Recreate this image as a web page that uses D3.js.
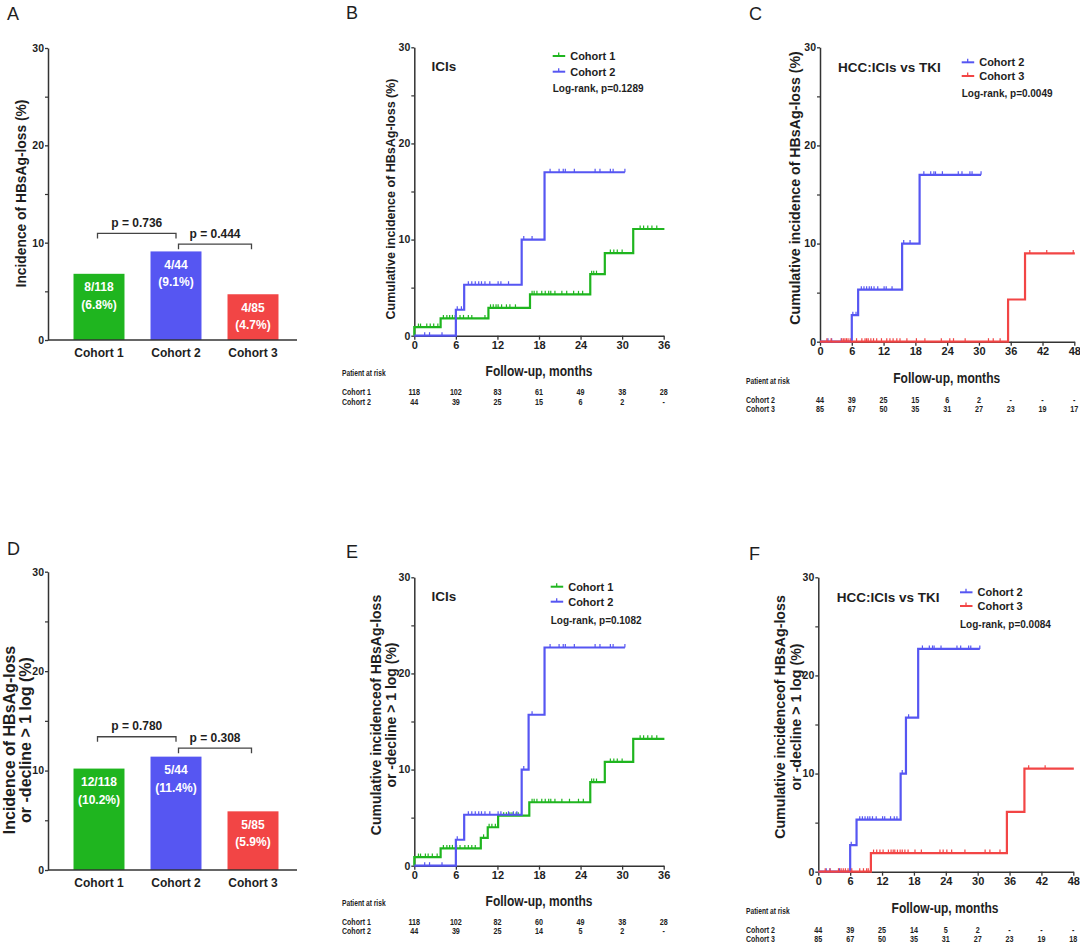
<!DOCTYPE html>
<html><head><meta charset="utf-8">
<script src="https://cdn.jsdelivr.net/npm/d3@7"></script>
<style>
body{margin:0;background:#fff}
svg{display:block}
text{font-family:"Liberation Sans",Arial,sans-serif;font-weight:bold;fill:#1e1e1e}
.letter{font-weight:normal}
</style>
</head><body><svg id="c" width="1080" height="945"></svg>
<script>
// ---------- data ----------
const categories = ["Cohort 1", "Cohort 2", "Cohort 3"];
const colors = ["#1fb51f", "#5656f2", "#f24545"];

const lossValues = [6.8, 9.1, 4.7];
const lossCounts = ["8/118", "4/44", "4/85"];
const lossPct = ["(6.8%)", "(9.1%)", "(4.7%)"];
const lossP = ["p = 0.736", "p = 0.444"];

const declineValues = [10.2, 11.4, 5.9];
const declineCounts = ["12/118", "5/44", "5/85"];
const declinePct = ["(10.2%)", "(11.4%)", "(5.9%)"];
const declineP = ["p = 0.780", "p = 0.308"];

const yTicks = [0, 10, 20, 30];
const yMinor = [5, 15, 25];
const months36 = [0, 6, 12, 18, 24, 30, 36];
const months48 = [0, 6, 12, 18, 24, 30, 36, 42, 48];

// Kaplan-Meier step points [month, %]
const lossC1 = [[0,0],[0,0.9],[3.8,1.8],[10.7,2.9],[16.7,4.3],[25.4,6.4],[27.5,8.6],[31.6,11.1],[36.1,11.1]];
const lossC2 = [[0,0],[6,2.7],[7.2,5.3],[15.5,10.0],[18.8,17.0],[30.4,17.0]];
const lossC3 = [[0,0],[35.5,4.3],[38.7,9.0],[48.1,9.0]];
const declC1 = [[0,0],[0,0.9],[3.8,1.8],[9.6,2.9],[10.6,4.0],[12.1,5.2],[16.6,6.6],[25.4,8.7],[27.5,10.8],[31.6,13.2],[36.1,13.2]];
const declC2 = [[0,0],[6,2.7],[7.2,5.3],[15.5,10.0],[16.5,15.7],[18.8,22.7],[30.4,22.7]];
const declC3 = [[0,0],[9.9,1.9],[35.5,6.1],[38.8,10.5],[48.1,10.5]];

// censored times (months)
const lossC1Cens = [0.6,0.9,1.8,2.3,2.8,3.4,4.2,4.7,5.1,5.5,5.9,6.6,7.1,7.8,8.3,10.2,11.0,11.4,11.8,12.1,12.6,13.3,13.8,14.6,17.0,17.3,17.7,18.4,18.9,19.4,19.7,20.3,21.3,22.0,23.0,23.7,24.3,25.6,25.9,26.3,28.3,28.8,29.3,30.0,32.6,33.1,33.7,34.3,35.0];
const lossC2Cens = [1.5,2.2,4.0,6.2,6.8,7.8,8.3,8.8,9.3,9.7,10.2,10.9,12.1,12.5,13.6,15.8,17.0,19.6,20.9,21.5,21.8,23.1,26.1,26.8,28.3,28.7,30.4];
const lossC3Cens = [1.3,2.1,4.1,4.4,4.7,5.0,5.3,5.7,6.9,7.9,8.5,8.8,9.1,9.6,10.1,10.7,11.6,12.6,13.2,13.8,14.5,15.1,16.4,18.2,19.8,22.9,24.5,25.2,27.4,31.8,32.7,34.0,39.6,42.8,47.8];
const declC1Cens = [0.6,0.9,1.6,2.0,2.6,3.3,4.2,4.7,5.1,5.5,6.1,6.6,7.3,7.8,8.3,8.8,10.0,10.8,11.2,11.7,12.9,13.3,13.8,14.1,14.7,15.0,17.0,17.3,17.7,18.4,18.9,19.4,19.7,20.3,21.3,22.4,23.7,24.4,25.6,25.9,26.3,28.3,28.8,29.3,30.0,32.6,33.1,33.7,34.3,35.0];
const declC2Cens = [1.5,2.2,4.0,6.2,7.8,8.3,8.8,9.3,9.7,10.2,10.9,12.1,12.5,13.6,14.3,14.8,15.8,17.0,19.6,20.9,21.5,21.8,23.1,26.1,26.8,28.3,28.7,30.4];
const declC3Cens = [1.3,2.2,3.8,4.3,4.7,5.1,5.6,6.3,7.8,8.5,9.1,9.4,10.4,11.0,11.6,12.2,13.2,13.7,14.1,14.4,14.9,15.4,15.8,16.3,16.9,18.2,19.4,22.9,23.5,24.2,25.1,27.6,31.4,32.3,34.2,39.6,42.7];

// numbers at risk
const riskB1 = ["118","102","83","61","49","38","28"];
const riskB2 = ["44","39","25","15","6","2","-"];
const riskC2 = ["44","39","25","15","6","2","-","-","-"];
const riskC3 = ["85","67","50","35","31","27","23","19","17"];
const riskE1 = ["118","102","82","60","49","38","28"];
const riskE2 = ["44","39","25","14","5","2","-"];
const riskF2 = ["44","39","25","14","5","2","-","-","-"];
const riskF3 = ["85","67","50","35","31","27","23","19","18"];

// ---------- drawing ----------
const svg = d3.select("#c");
const AX = "#333";

function styleAxis(g, fs) {
  g.select(".domain").attr("stroke", AX).attr("stroke-width", 1.5);
  g.selectAll(".tick line").attr("stroke", AX).attr("stroke-width", 1.3);
  g.selectAll(".tick text").attr("font-size", fs).attr("fill", "#1e1e1e")
    .style("font-family", '"Liberation Sans",Arial,sans-serif').style("font-weight", "bold");
}

function yAxis(g, y, x0) {
  const a = g.append("g").attr("transform", `translate(${x0},0)`)
    .call(d3.axisLeft(y).tickValues(yTicks).tickSize(3).tickSizeOuter(0).tickPadding(1));
  styleAxis(a, 10.5);
  const m = g.append("g").attr("transform", `translate(${x0},0)`)
    .call(d3.axisLeft(y).tickValues(yMinor).tickSize(3).tickFormat(""));
  m.select(".domain").remove();
  m.selectAll(".tick line").attr("stroke", AX).attr("stroke-width", 1.2);
}

function letter(t, x, y) {
  svg.append("text").attr("class", "letter").attr("x", x).attr("y", y)
    .attr("font-size", 18).text(t);
}

function rotTitle(lines, cx, cy, fs, gap) {
  lines.forEach((l, i) => {
    const x = cx + (i - (lines.length - 1) / 2) * gap;
    svg.append("text").attr("transform", `translate(${x},${cy}) rotate(-90)`)
      .attr("text-anchor", "middle").attr("dominant-baseline", "central")
      .attr("font-size", fs).text(l);
  });
}

// condensed text helper (narrow look of the original)
function narrowText(g, x, y, txt, fs, sx, anchor) {
  return g.append("text").attr("transform", `translate(${x},${y}) scale(${sx},1)`)
    .attr("text-anchor", anchor || "start").attr("dominant-baseline", "central")
    .attr("font-size", fs).text(txt);
}

function barPanel(cfg) {
  const g = svg.append("g");
  const x = d3.scaleBand().domain(categories).range([60.5, 291.5]).paddingInner(0.338).paddingOuter(0.169);
  const y = d3.scaleLinear().domain([0, 30]).range(cfg.yr);
  g.selectAll("rect").data(cfg.values).join("rect")
    .attr("x", (d, i) => x(categories[i])).attr("width", x.bandwidth())
    .attr("y", d => y(d)).attr("height", d => y(0) - y(d))
    .attr("fill", (d, i) => colors[i]);
  cfg.values.forEach((v, i) => {
    const cx = x(categories[i]) + x.bandwidth() / 2;
    g.append("text").attr("x", cx).attr("y", y(v) + 13.5).attr("text-anchor", "middle")
      .attr("dominant-baseline", "central").attr("font-size", 12).style("fill", "#fff").text(cfg.counts[i]);
    g.append("text").attr("x", cx).attr("y", y(v) + 31).attr("text-anchor", "middle")
      .attr("dominant-baseline", "central").attr("font-size", 12).style("fill", "#fff").text(cfg.pct[i]);
  });
  yAxis(g, y, 48);
  g.append("line").attr("x1", 48).attr("x2", 297).attr("y1", y(0)).attr("y2", y(0))
    .attr("stroke", AX).attr("stroke-width", 1.5);
  categories.forEach(c => {
    g.append("text").attr("x", x(c) + x.bandwidth() / 2).attr("y", y(0) + 13)
      .attr("text-anchor", "middle").attr("dominant-baseline", "central").attr("font-size", 12).text(c);
  });
  // significance brackets
  const pairs = [[0, 1, cfg.off[0]], [1, 2, cfg.off[1]]];
  pairs.forEach((p, k) => {
    const lvl = y(Math.max(cfg.values[p[0]], cfg.values[p[1]]) + p[2]);
    const x1 = k === 0 ? x(categories[0]) + x.bandwidth() / 2 - 1.5 : x(categories[1]) + x.bandwidth() / 2 + 2.5;
    const x2 = k === 0 ? x(categories[1]) + x.bandwidth() / 2 : x(categories[2]) + x.bandwidth() / 2 - 1.5;
    g.append("path").attr("d", `M${x1},${lvl + 5}V${lvl}H${x2}V${lvl + 5}`)
      .attr("fill", "none").attr("stroke", "#444").attr("stroke-width", 1.3);
    g.append("text").attr("x", (x1 + x2) / 2).attr("y", lvl - 10.5).attr("text-anchor", "middle")
      .attr("dominant-baseline", "central").attr("font-size", 12).text(cfg.p[k]);
  });
}

function stepAt(steps, t) {
  let v = 0;
  for (const s of steps) if (s[0] <= t) v = s[1];
  return v;
}

function kmPanel(cfg) {
  const g = svg.append("g");
  const x = d3.scaleLinear().domain([0, cfg.xMax]).range(cfg.xr);
  const y = d3.scaleLinear().domain([0, 30]).range(cfg.yr);
  yAxis(g, y, cfg.xr[0]);
  const xa = g.append("g").attr("transform", `translate(0,${cfg.yr[0]})`)
    .call(d3.axisBottom(x).tickValues(cfg.ticks).tickSize(4).tickSizeOuter(0).tickPadding(2));
  styleAxis(xa, 11);
  const line = d3.line().x(d => x(d[0])).y(d => y(d[1])).curve(d3.curveStepAfter);
  cfg.series.forEach(s => {
    g.append("path").datum(s.steps).attr("d", line).attr("fill", "none")
      .attr("stroke", s.color).attr("stroke-width", 2.2);
    g.selectAll(null).data(s.cens).join("line")
      .attr("x1", d => x(d)).attr("x2", d => x(d))
      .attr("y1", d => y(stepAt(s.steps, d))).attr("y2", d => y(stepAt(s.steps, d)) - 3.5)
      .attr("stroke", s.color).attr("stroke-width", 1.2);
  });
  g.append("text").attr("x", cfg.title[1]).attr("y", cfg.title[2]).attr("dominant-baseline", "central")
    .attr("font-size", 13.5).text(cfg.title[0]);
  const L = cfg.legend;
  cfg.series.forEach((s, i) => {
    const ly = L.y[i];
    g.append("line").attr("x1", L.x).attr("x2", L.x + 12.5).attr("y1", ly).attr("y2", ly)
      .attr("stroke", s.color).attr("stroke-width", 2);
    g.append("line").attr("x1", L.x + 6).attr("x2", L.x + 6).attr("y1", ly).attr("y2", ly - 3.5)
      .attr("stroke", s.color).attr("stroke-width", 1.3);
    g.append("text").attr("x", L.x + 17.5).attr("y", ly).attr("dominant-baseline", "central")
      .attr("font-size", 11).text(s.name);
  });
  g.append("text").attr("x", L.x).attr("y", L.y[2]).attr("dominant-baseline", "central")
    .attr("font-size", 10).text(cfg.logrank);
  narrowText(g, cfg.xt[0], cfg.xt[1], "Follow-up, months", 14, 0.86, "middle");
  const R = cfg.risk;
  narrowText(g, R.x, R.y[0], "Patient at risk", 9, 0.74);
  cfg.series.forEach((s, i) => {
    narrowText(g, R.x, R.y[i + 1], s.name, 9, 0.78);
    s.risk.forEach((d, j) => narrowText(g, x(cfg.ticks[j]), R.y[i + 1], d, 9, 0.8, "middle"));
  });
}

// Panel A
letter("A", 7, 20);
rotTitle(["Incidence of HBsAg-loss (%)"], 21.5, 193.5, 13.8, 0);
barPanel({yr: [340, 48], values: lossValues, counts: lossCounts, pct: lossPct, p: lossP, off: [1.85, 0.75]});

// Panel D
letter("D", 7, 555);
rotTitle(["Incidence of HBsAg-loss", "or -decline > 1 log (%)"], 17.5, 740, 16, 16.5);
barPanel({yr: [870, 571.7], values: declineValues, counts: declineCounts, pct: declinePct, p: declineP, off: [2.0, 0.85]});

// Panel B
letter("B", 346, 19);
rotTitle(["Cumulative incidence of HBsAg-loss (%)"], 390.5, 199, 12.5, 0);
kmPanel({xMax: 36, xr: [414.3, 663.7], yr: [335.7, 47.3], ticks: months36,
  series: [
    {name: categories[0], steps: lossC1, cens: lossC1Cens, color: colors[0], risk: riskB1},
    {name: categories[1], steps: lossC2, cens: lossC2Cens, color: colors[1], risk: riskB2}],
  title: ["ICIs", 431.5, 66], legend: {x: 552.7, y: [56, 71.7, 88]}, logrank: "Log-rank, p=0.1289",
  xt: [539, 371], risk: {x: 342, y: [373, 392, 402]}});

// Panel C
letter("C", 749, 20);
rotTitle(["Cumulative incidence of HBsAg-loss (%)"], 795, 188, 14.2, 0);
kmPanel({xMax: 48, xr: [820, 1074.3], yr: [341.7, 47.3], ticks: months48,
  series: [
    {name: categories[1], steps: lossC2, cens: lossC2Cens, color: colors[1], risk: riskC2},
    {name: categories[2], steps: lossC3, cens: lossC3Cens, color: colors[2], risk: riskC3}],
  title: ["HCC:ICIs vs TKI", 838, 67], legend: {x: 961.7, y: [62.3, 76, 93]}, logrank: "Log-rank, p=0.0049",
  xt: [946.7, 378], risk: {x: 746, y: [381, 400.7, 409]}});

// Panel E
letter("E", 346, 558);
rotTitle(["Cumulative incidenceof HBsAg-loss", "or -decline > 1 log (%)"], 383.5, 715, 14, 14.5);
kmPanel({xMax: 36, xr: [414.3, 663.7], yr: [865.7, 577.3], ticks: months36,
  series: [
    {name: categories[0], steps: declC1, cens: declC1Cens, color: colors[0], risk: riskE1},
    {name: categories[1], steps: declC2, cens: declC2Cens, color: colors[1], risk: riskE2}],
  title: ["ICIs", 431.5, 596], legend: {x: 550.7, y: [586.7, 601.7, 620]}, logrank: "Log-rank, p=0.1082",
  xt: [539, 900.7], risk: {x: 342, y: [903, 922, 931.7]}});

// Panel F
letter("F", 749, 560);
rotTitle(["Cumulative incidenceof HBsAg-loss", "or -decline > 1 log (%)"], 787.5, 717, 14.2, 16);
kmPanel({xMax: 48, xr: [818.3, 1073.3], yr: [871.7, 577.3], ticks: months48,
  series: [
    {name: categories[1], steps: declC2, cens: declC2Cens, color: colors[1], risk: riskF2},
    {name: categories[2], steps: declC3, cens: declC3Cens, color: colors[2], risk: riskF3}],
  title: ["HCC:ICIs vs TKI", 836.7, 597], legend: {x: 960, y: [592.3, 606, 624]}, logrank: "Log-rank, p=0.0084",
  xt: [945, 908.3], risk: {x: 746, y: [910.7, 930.7, 939]}});
</script>
</body></html>
